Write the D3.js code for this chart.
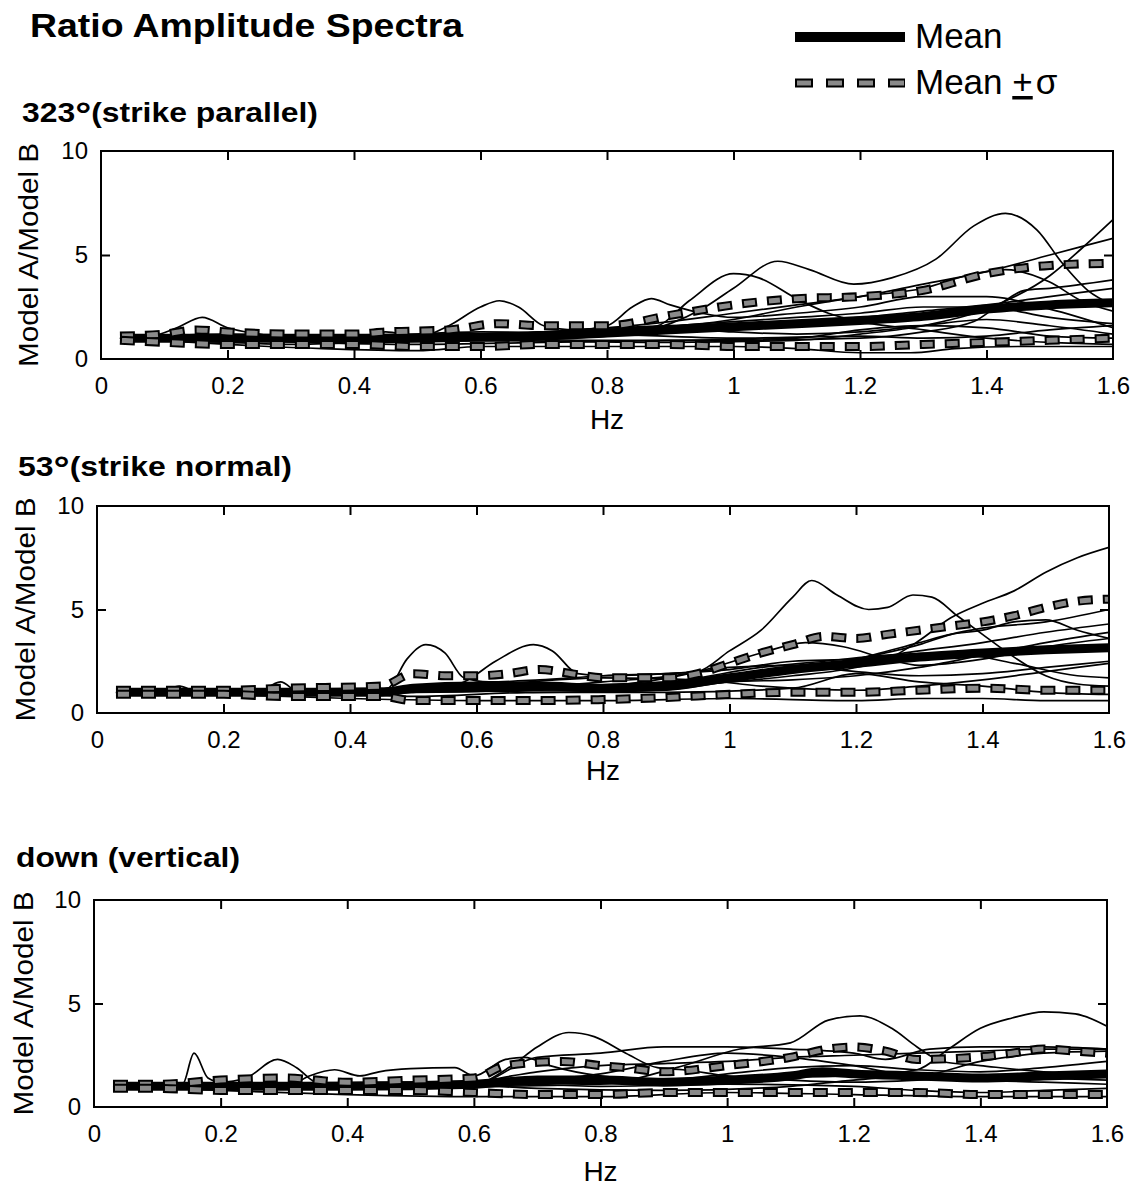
<!DOCTYPE html>
<html><head><meta charset="utf-8">
<script src="https://cdn.jsdelivr.net/npm/d3@7"></script>
<style>
body{margin:0;background:#fff}
text{font-family:"Liberation Sans",Arial,Helvetica,sans-serif;fill:#000}
</style>
</head><body>
<svg id="c" width="1141" height="1187"></svg>
<script>
// ---------- tick labels ----------
const xTickValues = [0, 0.2, 0.4, 0.6, 0.8, 1, 1.2, 1.4, 1.6];
const yTickValues = [0, 5, 10];
const legendLabels = ["Mean", "Mean "];
const panelTitles = [["323", "(strike parallel)"], ["53", "(strike normal)"], ["down (vertical)", null]];

// ---------- panel 1 : 323° (strike parallel)  [Hz, ratio] ----------
const p1Mean  = [[0.03,1.0],[0.2,1.0],[0.4,1.0],[0.6,1.05],[0.7,1.1],[0.8,1.25],[0.9,1.4],[1.0,1.55],[1.1,1.7],[1.2,1.85],[1.3,2.05],[1.4,2.4],[1.5,2.6],[1.6,2.7]];
const p1Upper = [[0.03,1.1],[0.1,1.2],[0.15,1.4],[0.2,1.3],[0.3,1.2],[0.4,1.2],[0.45,1.3],[0.55,1.4],[0.63,1.7],[0.7,1.6],[0.8,1.6],[0.9,2.1],[1.0,2.6],[1.1,2.9],[1.2,3.0],[1.3,3.3],[1.4,4.1],[1.5,4.5],[1.6,4.6]];
const p1Lower = [[0.03,0.9],[0.1,0.8],[0.2,0.7],[0.3,0.7],[0.4,0.7],[0.5,0.6],[0.6,0.6],[0.7,0.7],[0.8,0.7],[0.9,0.7],[1.0,0.6],[1.1,0.6],[1.2,0.6],[1.3,0.7],[1.4,0.8],[1.5,0.9],[1.6,1.0]];
const p1T1  = [[0.03,1.0],[0.08,1.1],[0.12,1.5],[0.16,2.0],[0.2,1.5],[0.25,1.2],[0.3,1.0],[0.4,1.0],[0.45,1.3],[0.5,1.1],[0.6,1.2],[0.7,1.3],[0.8,1.5],[0.9,1.6],[1.0,1.8],[1.1,2.0],[1.2,2.2],[1.3,2.5],[1.4,2.5],[1.5,2.0],[1.6,1.7]];
const p1T2  = [[0.03,1.0],[0.1,0.9],[0.2,0.8],[0.3,0.7],[0.4,0.8],[0.5,1.0],[0.55,1.6],[0.6,2.5],[0.63,2.8],[0.66,2.5],[0.7,1.6],[0.75,1.4],[0.8,1.5],[0.9,1.5],[1.0,1.3],[1.1,1.2],[1.2,1.3],[1.3,1.6],[1.4,1.9],[1.5,1.6],[1.6,1.2]];
const p1T3  = [[0.03,1.0],[0.15,1.1],[0.3,0.9],[0.5,0.9],[0.7,1.2],[0.8,1.6],[0.84,2.5],[0.87,2.9],[0.9,2.6],[0.95,2.2],[1.0,2.0],[1.1,2.2],[1.2,2.5],[1.3,3.0],[1.4,3.0],[1.5,2.4],[1.6,1.5]];
const p1T4  = [[0.03,1.0],[0.2,1.0],[0.4,0.8],[0.6,1.0],[0.8,1.3],[0.88,1.6],[0.93,2.8],[1.0,4.1],[1.04,3.9],[1.1,2.9],[1.15,2.2],[1.2,1.8],[1.3,1.4],[1.4,1.0],[1.5,0.8],[1.6,0.7]];
const p1T5  = [[0.03,1.0],[0.2,0.9],[0.4,0.8],[0.6,0.9],[0.8,1.1],[0.9,1.7],[0.95,2.4],[1.0,3.4],[1.07,4.7],[1.12,4.3],[1.19,3.6],[1.25,3.9],[1.32,4.8],[1.38,6.4],[1.43,7.0],[1.48,6.2],[1.52,4.6],[1.56,3.3],[1.6,2.6]];
const p1T6  = [[0.03,1.0],[0.3,1.0],[0.6,0.9],[0.9,0.8],[1.1,0.9],[1.2,1.2],[1.3,1.6],[1.4,2.4],[1.5,4.0],[1.55,5.3],[1.6,6.7]];
const p1T7  = [[0.03,1.0],[0.4,1.1],[0.7,1.3],[0.9,1.8],[1.0,2.2],[1.1,2.6],[1.2,3.0],[1.3,3.6],[1.4,4.2],[1.5,5.0],[1.6,5.8]];
const p1T8  = [[0.03,1.0],[0.3,1.0],[0.6,1.2],[0.8,1.4],[1.0,1.9],[1.1,2.5],[1.2,3.0],[1.3,3.4],[1.38,4.1],[1.43,4.3],[1.5,3.7],[1.55,2.8],[1.6,2.3]];
const p1T9  = [[0.03,1.0],[0.5,1.0],[0.8,0.9],[1.0,0.9],[1.2,1.0],[1.3,1.3],[1.38,1.8],[1.42,2.6],[1.46,3.3],[1.5,3.4],[1.6,3.8]];
const p1T10 = [[0.03,1.0],[0.6,1.1],[0.9,1.3],[1.1,1.8],[1.2,2.0],[1.3,2.3],[1.4,2.6],[1.5,3.0],[1.6,3.4]];
const p1T11 = [[0.03,1.0],[0.2,0.7],[0.35,0.5],[0.5,0.4],[0.6,0.6],[0.8,0.6],[1.0,0.6],[1.1,0.5],[1.2,0.3],[1.28,0.3],[1.35,0.5],[1.45,0.6],[1.6,0.6]];
const p1T12 = [[0.03,1.0],[0.2,1.2],[0.4,1.1],[0.6,1.3],[0.8,1.2],[1.0,1.0],[1.2,1.1],[1.3,1.0],[1.4,1.1],[1.5,1.4],[1.6,1.6]];
const p1T13 = [[0.03,1.0],[0.2,0.9],[0.5,0.7],[0.7,0.8],[0.9,0.9],[1.1,1.0],[1.2,1.4],[1.3,1.6],[1.4,1.5],[1.5,1.1],[1.6,1.0]];

// ---------- panel 2 : 53° (strike normal) ----------
const p2Mean  = [[0.03,1.0],[0.2,1.0],[0.45,1.0],[0.5,1.2],[0.6,1.3],[0.7,1.3],[0.8,1.2],[0.9,1.3],[1.0,1.7],[1.1,2.1],[1.2,2.4],[1.3,2.7],[1.4,2.9],[1.5,3.05],[1.6,3.15]];
const p2Upper = [[0.03,1.1],[0.2,1.1],[0.3,1.2],[0.45,1.3],[0.5,1.9],[0.55,1.8],[0.6,1.8],[0.65,1.9],[0.7,2.1],[0.75,1.9],[0.8,1.7],[0.9,1.7],[0.95,1.9],[1.0,2.4],[1.05,2.9],[1.1,3.3],[1.15,3.7],[1.2,3.6],[1.25,3.8],[1.3,4.0],[1.35,4.2],[1.4,4.4],[1.45,4.7],[1.5,5.1],[1.55,5.4],[1.6,5.5]];
const p2Lower = [[0.03,0.9],[0.2,0.9],[0.3,0.8],[0.45,0.8],[0.5,0.6],[0.6,0.6],[0.7,0.6],[0.8,0.65],[0.9,0.75],[1.0,0.9],[1.1,1.0],[1.2,1.0],[1.3,1.1],[1.4,1.2],[1.5,1.1],[1.6,1.1]];
const p2T1  = [[0.03,1.0],[0.1,1.0],[0.13,1.3],[0.16,1.0],[0.25,0.9],[0.29,1.5],[0.32,1.0],[0.4,1.0],[0.46,1.2],[0.49,2.6],[0.52,3.3],[0.55,2.9],[0.58,1.7],[0.62,1.5],[0.7,1.6],[0.8,1.8],[0.9,1.9],[1.0,2.1],[1.1,2.5],[1.2,2.6],[1.3,3.0],[1.4,3.4],[1.5,3.9],[1.6,4.3]];
const p2T2  = [[0.03,1.0],[0.3,0.9],[0.5,1.0],[0.58,1.5],[0.63,2.5],[0.69,3.3],[0.72,3.0],[0.76,1.9],[0.8,1.8],[0.9,1.9],[0.95,2.0],[1.0,2.2],[1.1,2.3],[1.2,2.0],[1.3,1.8],[1.4,1.9],[1.5,2.2],[1.6,2.5]];
const p2T3  = [[0.03,1.0],[0.3,1.0],[0.6,1.1],[0.8,1.5],[0.95,2.0],[1.0,3.0],[1.05,4.0],[1.1,5.6],[1.13,6.4],[1.17,5.7],[1.22,5.0],[1.25,5.1],[1.29,5.7],[1.32,5.6],[1.36,4.7],[1.4,3.8],[1.45,2.7],[1.5,1.8],[1.55,1.4],[1.6,1.3]];
const p2T4  = [[0.03,1.0],[0.4,1.0],[0.7,1.1],[0.9,1.3],[1.0,1.5],[1.1,1.8],[1.2,2.2],[1.25,2.6],[1.3,3.5],[1.35,4.6],[1.4,5.3],[1.45,5.9],[1.5,6.8],[1.55,7.5],[1.6,8.0]];
const p2T5  = [[0.03,1.0],[0.5,1.1],[0.8,1.3],[1.0,1.6],[1.1,2.0],[1.2,2.6],[1.3,3.3],[1.35,3.8],[1.4,4.1],[1.5,4.4],[1.6,5.0]];
const p2T6  = [[0.03,1.0],[0.5,1.0],[0.8,1.3],[0.95,2.0],[1.05,2.9],[1.12,3.4],[1.18,3.2],[1.25,2.6],[1.3,2.3],[1.4,2.6],[1.5,3.2],[1.6,3.6]];
const p2T7  = [[0.03,1.0],[0.6,1.1],[0.9,1.4],[1.1,2.0],[1.2,2.6],[1.3,3.4],[1.35,3.8],[1.4,4.0],[1.45,4.4],[1.5,4.5],[1.55,4.0],[1.6,3.6]];
const p2T8  = [[0.03,1.0],[0.6,1.2],[0.9,1.5],[1.05,2.2],[1.15,2.5],[1.25,2.8],[1.35,2.9],[1.45,2.4],[1.55,1.8],[1.6,1.7]];
const p2T9  = [[0.03,1.0],[0.2,0.9],[0.4,0.7],[0.6,0.6],[0.8,0.6],[1.0,0.7],[1.2,0.6],[1.3,0.7],[1.4,0.7],[1.5,0.6],[1.6,0.6]];
const p2T10 = [[0.03,1.0],[0.3,1.1],[0.5,0.8],[0.7,1.0],[0.9,1.0],[1.1,1.2],[1.2,1.9],[1.3,1.5],[1.4,1.3],[1.5,1.0],[1.6,0.9]];
const p2T11 = [[0.03,1.0],[0.4,1.0],[0.6,1.3],[0.8,1.7],[0.95,1.6],[1.05,1.3],[1.2,1.1],[1.3,1.3],[1.4,1.6],[1.5,2.0],[1.6,2.4]];
const p2T12 = [[0.03,1.0],[0.5,1.2],[0.7,1.0],[0.9,1.1],[1.0,1.5],[1.1,1.6],[1.2,1.8],[1.3,2.2],[1.4,2.8],[1.5,3.4],[1.6,3.9]];

// ---------- panel 3 : down (vertical) ----------
const p3Mean  = [[0.03,1.0],[0.2,1.0],[0.4,1.0],[0.6,1.1],[0.7,1.3],[0.8,1.3],[0.9,1.2],[1.0,1.3],[1.1,1.5],[1.15,1.7],[1.2,1.6],[1.3,1.5],[1.4,1.4],[1.5,1.5],[1.6,1.6]];
const p3Upper = [[0.03,1.1],[0.1,1.1],[0.2,1.3],[0.3,1.4],[0.4,1.2],[0.5,1.3],[0.6,1.4],[0.65,2.0],[0.74,2.2],[0.8,2.0],[0.84,1.9],[0.9,1.7],[1.0,2.0],[1.1,2.4],[1.16,2.8],[1.2,2.9],[1.25,2.7],[1.3,2.3],[1.39,2.4],[1.45,2.6],[1.5,2.8],[1.55,2.7],[1.6,2.6]];
const p3Lower = [[0.03,0.9],[0.1,0.9],[0.2,0.8],[0.3,0.8],[0.4,0.8],[0.5,0.8],[0.6,0.7],[0.7,0.6],[0.8,0.6],[0.9,0.7],[1.0,0.7],[1.1,0.7],[1.2,0.7],[1.3,0.7],[1.4,0.6],[1.5,0.6],[1.6,0.6]];
const p3T1  = [[0.03,1.0],[0.1,1.0],[0.14,1.1],[0.158,2.6],[0.18,1.4],[0.2,1.2],[0.24,1.4],[0.29,2.3],[0.32,1.9],[0.35,1.2],[0.4,1.0],[0.5,1.1],[0.6,1.2],[0.66,1.5],[0.7,1.7],[0.8,2.0],[0.9,2.1],[1.0,2.2],[1.1,2.4],[1.2,2.5],[1.3,2.6],[1.4,2.7],[1.5,2.8],[1.6,2.8]];
const p3T2  = [[0.03,1.0],[0.2,1.0],[0.3,0.9],[0.34,1.5],[0.38,1.8],[0.42,1.5],[0.45,1.7],[0.5,1.85],[0.57,1.9],[0.6,1.5],[0.65,2.3],[0.68,2.4],[0.72,2.0],[0.8,1.5],[0.9,1.3],[1.0,1.6],[1.1,1.9],[1.2,2.0],[1.3,1.8],[1.4,1.7],[1.5,1.9],[1.6,2.2]];
const p3T3  = [[0.03,1.0],[0.3,1.0],[0.5,1.0],[0.6,1.1],[0.66,2.0],[0.7,2.9],[0.75,3.6],[0.79,3.4],[0.84,2.6],[0.89,1.9],[0.93,1.8],[1.0,1.5],[1.1,1.3],[1.2,1.2],[1.3,1.3],[1.4,1.5],[1.5,1.4],[1.6,1.3]];
const p3T4  = [[0.03,1.0],[0.4,1.0],[0.6,1.0],[0.8,1.1],[0.92,1.9],[1.02,2.8],[1.1,3.1],[1.16,4.2],[1.21,4.4],[1.26,3.8],[1.3,2.9],[1.34,2.2],[1.4,2.0],[1.5,1.7],[1.6,1.6]];
const p3T5  = [[0.03,1.0],[0.5,1.0],[0.8,1.2],[1.0,1.4],[1.2,1.5],[1.3,1.8],[1.35,2.8],[1.4,3.8],[1.45,4.3],[1.5,4.6],[1.55,4.5],[1.6,3.9]];
const p3T6  = [[0.03,1.0],[0.6,1.1],[0.7,2.4],[0.8,2.6],[0.9,2.9],[1.0,2.9],[1.1,2.8],[1.2,2.6],[1.25,2.3],[1.32,2.8],[1.4,2.9],[1.5,2.9],[1.6,2.8]];
const p3T7  = [[0.03,1.0],[0.5,0.9],[0.7,1.3],[0.8,1.6],[0.9,2.2],[1.0,2.6],[1.1,2.4],[1.2,2.0],[1.3,1.5],[1.4,2.2],[1.5,2.6],[1.6,2.7]];
const p3T8  = [[0.03,1.0],[0.2,0.8],[0.4,0.6],[0.6,0.5],[0.8,0.5],[1.0,0.7],[1.2,0.6],[1.4,0.5],[1.6,0.5]];
const p3T9  = [[0.03,1.0],[0.3,1.1],[0.6,1.2],[0.8,1.0],[1.0,1.1],[1.2,1.0],[1.3,0.8],[1.4,0.7],[1.5,0.8],[1.6,0.9]];
const p3T10 = [[0.03,1.0],[0.5,1.2],[0.7,0.9],[0.9,0.8],[1.1,1.0],[1.2,1.3],[1.3,1.5],[1.4,1.3],[1.5,1.2],[1.6,1.1]];

const p1Traces = [p1T1,p1T2,p1T3,p1T4,p1T5,p1T6,p1T7,p1T8,p1T9,p1T10,p1T11,p1T12,p1T13];
const p2Traces = [p2T1,p2T2,p2T3,p2T4,p2T5,p2T6,p2T7,p2T8,p2T9,p2T10,p2T11,p2T12];
const p3Traces = [p3T1,p3T2,p3T3,p3T4,p3T5,p3T6,p3T7,p3T8,p3T9,p3T10];

// ---------- layout ----------
const panels = [
  {title: panelTitles[0], titleX: 22, titleY: 122, titleW: 296, left: 101, right: 1113, top: 151, bottom: 359, ylabX: 38, hzY: 429,
   traces: p1Traces, mean: p1Mean, upper: p1Upper, lower: p1Lower},
  {title: panelTitles[1], titleX: 18, titleY: 476, titleW: 274, left: 97, right: 1109, top: 506, bottom: 713, ylabX: 35, hzY: 780,
   traces: p2Traces, mean: p2Mean, upper: p2Upper, lower: p2Lower},
  {title: panelTitles[2], titleX: 16, titleY: 867, titleW: 224, left: 94, right: 1107, top: 900, bottom: 1107, ylabX: 33, hzY: 1181,
   traces: p3Traces, mean: p3Mean, upper: p3Upper, lower: p3Lower}
];

const svg = d3.select("#c");

// main title
svg.append("text").attr("x", 30).attr("y", 37)
  .attr("font-size", 33).attr("font-weight", "bold")
  .attr("textLength", 433).attr("lengthAdjust", "spacingAndGlyphs")
  .text("Ratio Amplitude Spectra");

function dashed(g, d, lineGen, dash) {
  const a = dash || [15, 10];
  g.append("path").datum(d).attr("d", lineGen).attr("fill", "none")
    .attr("stroke", "#000").attr("stroke-width", 9).attr("stroke-dasharray", `${a[0]} ${a[1]}`);
  g.append("path").datum(d).attr("d", lineGen).attr("fill", "none")
    .attr("stroke", "#8a8a8a").attr("stroke-width", 5).attr("stroke-dasharray", `${a[0] - 4} ${a[1] + 4}`)
    .attr("stroke-dashoffset", -2);
}

panels.forEach((p, i) => {
  const x = d3.scaleLinear().domain([0, 1.6]).range([p.left, p.right]);
  const y = d3.scaleLinear().domain([0, 10]).range([p.bottom, p.top]);
  const line = d3.line().x(d => x(d[0])).y(d => y(d[1])).curve(d3.curveMonotoneX);
  const g = svg.append("g");

  // panel title
  const t = g.append("text").attr("x", p.titleX).attr("y", p.titleY)
    .attr("font-size", 27).attr("font-weight", "bold")
    .attr("textLength", p.titleW).attr("lengthAdjust", "spacingAndGlyphs");
  if (p.title[1] !== null) {
    t.append("tspan").text(p.title[0]);
    t.append("tspan").attr("font-size", 34).attr("dy", 4).text("°");
    t.append("tspan").attr("dy", -4).text(p.title[1]);
  } else {
    t.text(p.title[0]);
  }

  // data
  const clipId = "clip" + i;
  g.append("clipPath").attr("id", clipId).append("rect")
    .attr("x", p.left).attr("y", p.top).attr("width", p.right - p.left).attr("height", p.bottom - p.top);
  const dg = g.append("g").attr("clip-path", `url(#${clipId})`);
  dg.selectAll("path.tr").data(p.traces).join("path").attr("class", "tr")
    .attr("d", line).attr("fill", "none").attr("stroke", "#000").attr("stroke-width", 1.7);
  dg.append("path").datum(p.mean).attr("d", line).attr("fill", "none")
    .attr("stroke", "#000").attr("stroke-width", 9);
  dashed(dg, p.upper, line);
  dashed(dg, p.lower, line);

  // frame
  g.append("rect").attr("x", p.left).attr("y", p.top)
    .attr("width", p.right - p.left).attr("height", p.bottom - p.top)
    .attr("fill", "none").attr("stroke", "#000").attr("stroke-width", 2);

  // axes
  const xb = g.append("g").attr("transform", `translate(0,${p.bottom})`)
    .call(d3.axisBottom(x).tickValues(xTickValues).tickSizeInner(-9).tickSizeOuter(0).tickPadding(18).tickFormat(d => String(d)));
  const xt = g.append("g").attr("transform", `translate(0,${p.top})`)
    .call(d3.axisTop(x).tickValues(xTickValues.slice(1, -1)).tickSizeInner(-9).tickSizeOuter(0).tickFormat(""));
  const yl = g.append("g").attr("transform", `translate(${p.left},0)`)
    .call(d3.axisLeft(y).tickValues(yTickValues).tickSizeInner(-9).tickSizeOuter(0).tickPadding(13).tickFormat(d => String(d)));
  const yr = g.append("g").attr("transform", `translate(${p.right},0)`)
    .call(d3.axisRight(y).tickValues([5]).tickSizeInner(-9).tickSizeOuter(0).tickFormat(""));
  [xb, xt, yl, yr].forEach(a => {
    a.select(".domain").remove();
    a.selectAll(".tick line").attr("stroke", "#000").attr("stroke-width", 2);
    a.selectAll(".tick text").attr("font-size", 24).attr("fill", "#000")
      .attr("font-family", '"Liberation Sans",Arial,sans-serif');
  });
  xb.selectAll(".tick").filter(d => d === 0 || d === 1.6).select("line").remove();
  yl.selectAll(".tick").filter(d => d === 0 || d === 10).select("line").remove();

  // axis titles
  g.append("text").attr("transform", `translate(${p.ylabX},${(p.top + p.bottom) / 2}) rotate(-90)`)
    .attr("text-anchor", "middle").attr("font-size", 28)
    .attr("textLength", 224).attr("lengthAdjust", "spacingAndGlyphs").text("Model A/Model B");
  g.append("text").attr("x", (p.left + p.right) / 2).attr("y", p.hzY)
    .attr("text-anchor", "middle").attr("font-size", 28).text("Hz");
});

// legend
const lx = d3.scaleLinear().domain([0, 1]).range([795, 905]);
const legLine = d3.line().x(d => lx(d[0])).y(d => d[1]);
svg.append("path").datum([[0, 37], [1, 37]]).attr("d", legLine)
  .attr("stroke", "#000").attr("stroke-width", 10).attr("fill", "none");
dashed(svg.append("g"), [[0, 83], [1, 83]], legLine, [18, 13]);
svg.append("text").attr("x", 915).attr("y", 48).attr("font-size", 35).text(legendLabels[0]);
const lt = svg.append("text").attr("x", 915).attr("y", 94).attr("font-size", 35);
lt.append("tspan").text(legendLabels[1]);
lt.append("tspan").attr("text-decoration", "underline").style("text-decoration", "underline").text("+");
lt.append("tspan").attr("dx", 3).text("σ");
</script>
</body></html>
